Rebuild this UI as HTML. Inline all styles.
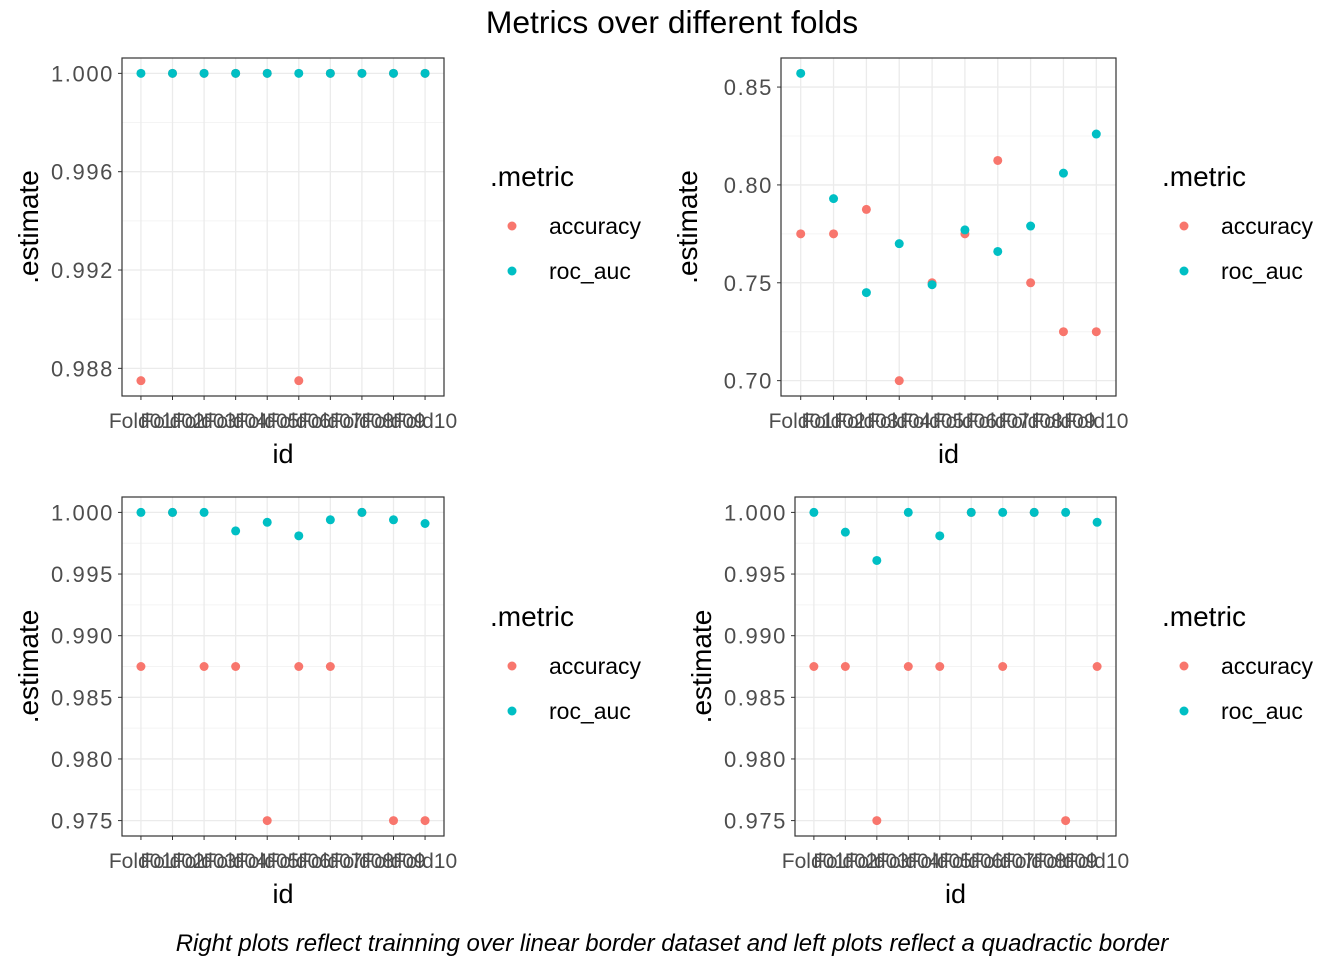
<!DOCTYPE html>
<html><head><meta charset="utf-8">
<style>
body{margin:0;background:#fff;}
svg{display:block;font-family:"Liberation Sans",Arial,sans-serif;}
</style></head>
<body>
<svg id="chart" width="1344" height="960" xmlns="http://www.w3.org/2000/svg">
<text x="672" y="33" text-anchor="middle" font-size="31.8" fill="#000">Metrics over different folds</text>
<text x="672" y="951" text-anchor="middle" font-size="24" font-style="italic" fill="#000">Right plots reflect trainning over linear border dataset and left plots reflect a quadractic border</text>
</svg>
<script>
const folds = ["Fold01","Fold02","Fold03","Fold04","Fold05","Fold06","Fold07","Fold08","Fold09","Fold10"];
const p1Accuracy = [0.9875,1,1,1,1,0.9875,1,1,1,1];
const p1Roc = [1,1,1,1,1,1,1,1,1,1];
const p1Ticks = [0.988,0.992,0.996,1.000];
const p2Accuracy = [0.775,0.775,0.7875,0.70,0.75,0.775,0.8125,0.75,0.725,0.725];
const p2Roc = [0.857,0.793,0.745,0.770,0.749,0.777,0.766,0.779,0.806,0.826];
const p2Ticks = [0.70,0.75,0.80,0.85];
const p3Accuracy = [0.9875,1,0.9875,0.9875,0.975,0.9875,0.9875,1,0.975,0.975];
const p3Roc = [1,1,1,0.9985,0.9992,0.9981,0.9994,1,0.9994,0.9991];
const p3Ticks = [0.975,0.980,0.985,0.990,0.995,1.000];
const p4Accuracy = [0.9875,0.9875,0.975,0.9875,0.9875,1,0.9875,1,0.975,0.9875];
const p4Roc = [1,0.9984,0.9961,1,0.9981,1,1,1,1,0.9992];
const p4Ticks = [0.975,0.980,0.985,0.990,0.995,1.000];
const legendLabels = ["accuracy","roc_auc"];
const colors = ["#F8766D","#00BFC4"];

const NS="http://www.w3.org/2000/svg";
const svg=document.getElementById('chart');
function mk(tag,attrs,parent){const e=document.createElementNS(NS,tag);for(const k in attrs)e.setAttribute(k,attrs[k]);(parent||svg).appendChild(e);return e;}

const panels=[
 {x0:122,x1:444,y0:58,y1:396,acc:p1Accuracy,roc:p1Roc,ticks:p1Ticks,dec:3,lx:490,ly:176,name:'panel-top-left'},
 {x0:781,x1:1116,y0:58,y1:396,acc:p2Accuracy,roc:p2Roc,ticks:p2Ticks,dec:2,lx:1162,ly:176,name:'panel-top-right'},
 {x0:122,x1:444,y0:497,y1:836,acc:p3Accuracy,roc:p3Roc,ticks:p3Ticks,dec:3,lx:490,ly:616,name:'panel-bottom-left'},
 {x0:795,x1:1116,y0:497,y1:836,acc:p4Accuracy,roc:p4Roc,ticks:p4Ticks,dec:3,lx:1162,ly:616,name:'panel-bottom-right'}
];
panels.forEach(p=>{
  const g=mk('g',{});
  
  
  const all=p.acc.concat(p.roc);
  const mn=Math.min(...all),mx=Math.max(...all),pad=(mx-mn)*0.05;
  const lo=mn-pad,hi=mx+pad;
  const y=v=>p.y1-(v-lo)/(hi-lo)*(p.y1-p.y0);
  const step=(p.x1-p.x0)/(folds.length-1+1.2);
  const x=i=>p.x0+step*(0.6+i);
  mk('rect',{x:p.x0,y:p.y0,width:p.x1-p.x0,height:p.y1-p.y0,fill:'#fff'},g);
  const d=p.ticks[1]-p.ticks[0];
  for(let v=p.ticks[0]-d/2;v<=hi;v+=d){ if(v<lo)continue; mk('line',{x1:p.x0,x2:p.x1,y1:y(v),y2:y(v),stroke:'#f4f4f4','stroke-width':1},g);}
  p.ticks.forEach(t=>{
    mk('line',{x1:p.x0,x2:p.x1,y1:y(t),y2:y(t),stroke:'#ebebeb','stroke-width':1.3},g);
    mk('line',{x1:p.x0-4,x2:p.x0,y1:y(t),y2:y(t),stroke:'#333','stroke-width':1},g);
    const tl=mk('text',{x:p.x0-8,y:y(t)+8,'text-anchor':'end','font-size':22,'letter-spacing':1.6,fill:'#4d4d4d'},g);
    tl.textContent=t.toFixed(p.dec);
    
    
  });
  folds.forEach((f,i)=>{
    mk('line',{x1:x(i),x2:x(i),y1:p.y0,y2:p.y1,stroke:'#ebebeb','stroke-width':1.3},g);
    mk('line',{x1:x(i),x2:x(i),y1:p.y1,y2:p.y1+4,stroke:'#333','stroke-width':1},g);
    const tl=mk('text',{x:x(i),y:p.y1+32,'text-anchor':'middle','font-size':21,fill:'#4d4d4d'},g);
    tl.textContent=f;
    
    
  });
  [p.acc,p.roc].forEach((s,si)=>{
    s.forEach((v,i)=>{
      const c=mk('circle',{cx:x(i),cy:y(v),r:4.5,fill:colors[si]},g);
      
      
    });
  });
  mk('rect',{x:p.x0,y:p.y0,width:p.x1-p.x0,height:p.y1-p.y0,fill:'none',stroke:'#333','stroke-width':1.2},g);
  const xt=mk('text',{x:(p.x0+p.x1)/2,y:p.y1+67,'text-anchor':'middle','font-size':27,fill:'#000'},g);
  xt.textContent='id';
  
  
  const cy=(p.y0+p.y1)/2;
  const yt=mk('text',{x:p.x0-84,y:cy,'text-anchor':'middle','font-size':28,fill:'#000',transform:`rotate(-90 ${p.x0-84} ${cy})`},g);
  yt.textContent='.estimate';
  
  
  const lt=mk('text',{x:p.lx,y:p.ly+10,'font-size':28,fill:'#000'},g);
  lt.textContent='.metric';
  
  
  legendLabels.forEach((l,li)=>{
    const ky=p.ly+50+li*45;
    const kc=mk('circle',{cx:p.lx+22,cy:ky,r:4.5,fill:colors[li]},g);
    
    
    const lbl=mk('text',{x:p.lx+59,y:ky+8,'font-size':23,fill:'#000'},g);
    lbl.textContent=l;
    
    
  });
});
</script>
</body></html>
